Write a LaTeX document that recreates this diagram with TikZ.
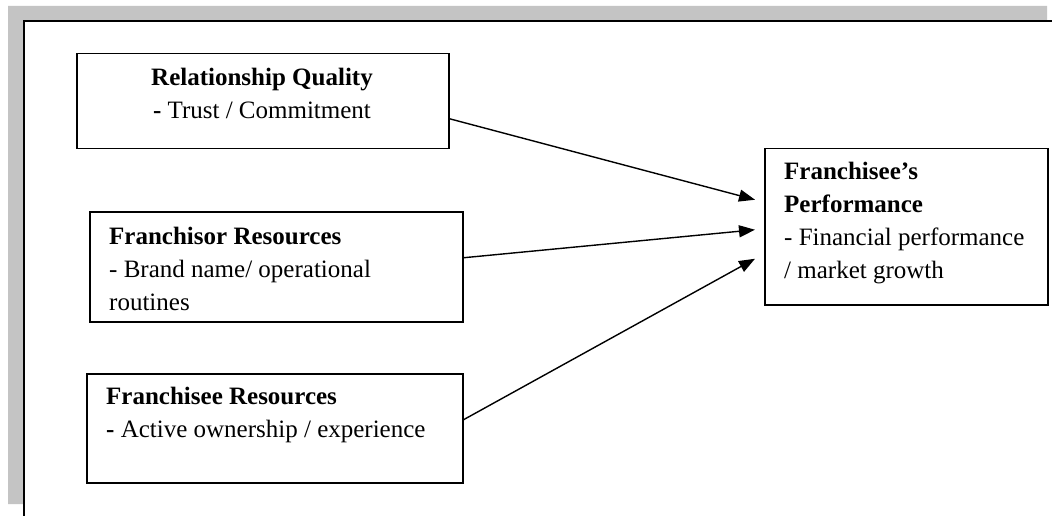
\documentclass[tikz,border=0pt]{standalone}
\usepackage{fontspec}
\setmainfont{Liberation Serif}
\usetikzlibrary{arrows.meta}
\definecolor{framegray}{RGB}{196,196,196}
\begin{document}
\begin{tikzpicture}[x=1pt,y=-1pt,
  box/.style={draw=black,line width=1.5pt,rectangle,inner sep=0pt,anchor=north west},
  label/.style={inner sep=0pt,font=\fontsize{25}{33}\selectfont},
  arr/.style={line width=1.4pt,-{Triangle[length=16pt,width=12pt]}}]
  % page area
  \path[fill=white,use as bounding box] (0,0) rectangle (1052,516);
  % shaded frame edge along the top and left
  \fill[framegray] (8,6) -- (1047,6) -- (1047,21) -- (23.5,21) -- (23.5,504) -- (8,504) -- cycle;
  \draw[line width=2pt] (1052,21.5) -- (23.8,21.5) -- (23.8,516);
  % boxes
  \node[box,minimum width=372pt,minimum height=95pt] (rq) at (76,53) {};
  \node[box,minimum width=373pt,minimum height=110pt] (fr) at (89,211) {};
  \node[box,minimum width=376pt,minimum height=109pt] (fe) at (86,373) {};
  \node[box,minimum width=283pt,minimum height=156pt] (perf) at (764,148) {};
  % box texts (anchored on the baseline of their last line)
  \node[label,anchor=base,align=center] (rqt) at (262,119)
    {\textbf{Relationship Quality}\\\textbf{-} Trust / Commitment};
  \node[label,anchor=base west,align=left] (frt) at (109,310)
    {\textbf{Franchisor Resources}\\- Brand name/ operational\\routines};
  \node[label,anchor=base west,align=left] (fet) at (106,437)
    {\textbf{Franchisee Resources}\\\textbf{-} Active ownership / experience};
  \node[label,anchor=base west,align=left] (perft) at (784,278)
    {\textbf{Franchisee’s}\\\textbf{Performance}\\- Financial performance\\/ market growth};
  % connectors
  \draw[arr] ([yshift=-17.5pt]rq.east) -- ([xshift=-9pt,yshift=27pt]perf.west);
  \draw[arr] ([yshift=9pt]fr.east) -- ([xshift=-9pt,yshift=-3pt]perf.west);
  \draw[arr] ([yshift=8.5pt]fe.east) -- ([xshift=-9pt,yshift=-32pt]perf.west);
\end{tikzpicture}
\end{document}
